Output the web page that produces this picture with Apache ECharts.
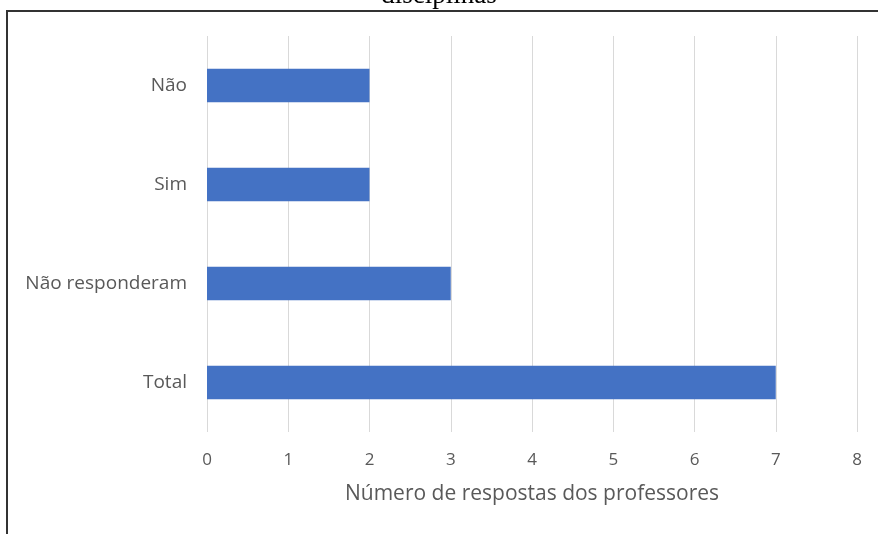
<!DOCTYPE html>
<html><head><meta charset="utf-8">
<script src="https://cdn.jsdelivr.net/npm/echarts@6/dist/echarts.min.js"></script>
<style>html,body{margin:0;padding:0;background:#fff}#c{width:878px;height:534px}</style>
</head><body><div id="c"></div>
<script>
const categories = ['Total', 'Não responderam', 'Sim', 'Não'];
const values = [7, 3, 2, 2];
const xTicks = [0, 1, 2, 3, 4, 5, 6, 7, 8];
const titleText = 'disciplinas';
const axisName = 'Número de respostas dos professores';

const chart = echarts.init(document.getElementById('c'));
chart.setOption({
  animation: false,
  backgroundColor: '#fff',
  title: {
    text: titleText, left: 'center', top: -23,
    textStyle: { fontFamily: 'Liberation Serif', fontSize: 27, fontWeight: 'normal', color: '#000' }
  },
  graphic: [{
    type: 'polyline', silent: true,
    shape: { points: [[7, 540], [7, 11], [885, 11]] },
    style: { stroke: '#333', lineWidth: 2, fill: null }
  }],
  grid: { left: 207, right: 21, top: 36, bottom: 102, containLabel: false },
  xAxis: {
    type: 'value', min: 0, max: 8, interval: 1,
    name: axisName, nameLocation: 'middle', nameGap: 52,
    nameTextStyle: { fontFamily: 'Open Sans', fontSize: 21, color: '#595959' },
    axisLine: { show: false }, axisTick: { show: false },
    axisLabel: { fontFamily: 'Open Sans', fontSize: 17, color: '#595959', margin: 20,
      formatter: v => xTicks.includes(v) ? String(v) : '' },
    splitLine: { lineStyle: { color: '#d9d9d9', width: 1 } }
  },
  yAxis: {
    type: 'category', data: categories,
    axisLine: { show: false }, axisTick: { show: false },
    axisLabel: { fontFamily: 'Open Sans', fontSize: 19, color: '#595959', margin: 20 }
  },
  series: [{
    type: 'bar', data: values, barWidth: '34%',
    itemStyle: { color: '#4472c4' }
  }]
});
</script></body></html>
